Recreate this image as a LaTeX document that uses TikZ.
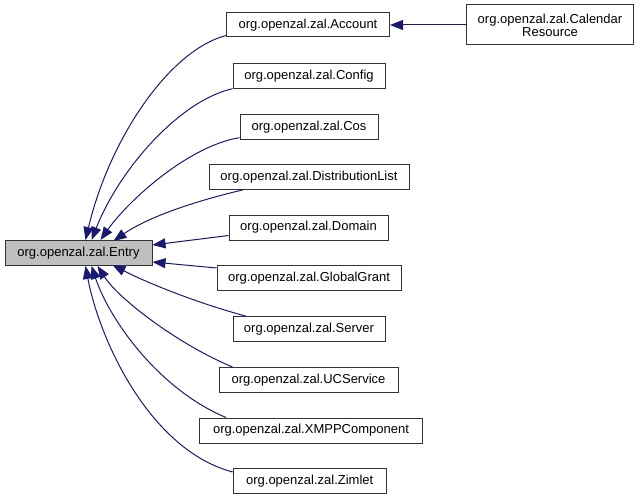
\documentclass[tikz,border=0pt]{standalone}
\usepackage{fontspec}
\setmainfont{Liberation Sans}
\usetikzlibrary{arrows.meta}
\definecolor{edgeblue}{HTML}{191970}
\definecolor{curgray}{HTML}{BFBFBF}
\tikzset{
  cls/.style={draw=black!80, line width=1pt, fill=white, inner sep=0pt,
    minimum height=25pt, font=\fontsize{13}{15}\selectfont, align=center},
  inh/.style={draw=edgeblue, line width=1pt,
    -{Triangle[length=13pt,width=10pt,fill=edgeblue]}},
}
\begin{document}
\begin{tikzpicture}[x=1pt,y=-1pt]
\useasboundingbox (0,0) rectangle (640,500);
% nodes
\node[cls, fill=curgray, minimum width=147pt] (entry) at (78.5,253) {org.openzal.zal.Entry};
\node[cls, minimum width=163pt, minimum height=24pt] (acc) at (308,25) {org.openzal.zal.Account};
\node[cls, minimum width=167pt, minimum height=40pt] (cal) at (550,25) {org.openzal.zal.Calendar\\[-2pt]Resource};
\node[cls, minimum width=152pt] (config) at (309,75.7) {org.openzal.zal.Config};
\node[cls, minimum width=138pt] (cos) at (309,126.7) {org.openzal.zal.Cos};
\node[cls, minimum width=200pt] (dist) at (309,177) {org.openzal.zal.DistributionList};
\node[cls, minimum width=159pt] (domain) at (308.5,227.5) {org.openzal.zal.Domain};
\node[cls, minimum width=184pt] (grant) at (309,278) {org.openzal.zal.GlobalGrant};
\node[cls, minimum width=152pt] (server) at (309,329) {org.openzal.zal.Server};
\node[cls, minimum width=179pt] (ucs) at (308.5,380) {org.openzal.zal.UCService};
\node[cls, minimum width=223pt] (xmpp) at (311,430.5) {org.openzal.zal.XMPPComponent};
\node[cls, minimum width=153pt] (zimlet) at (309.7,481) {org.openzal.zal.Zimlet};
% edges
\draw[inh] (cal.west) -- (acc.east);
\draw[inh] ([yshift=2pt]acc.south west) .. controls +(-57,15) and +(24,-101) .. ([xshift=81pt]entry.north west);
\draw[inh] (config.south west) .. controls +(-53,12) and +(28,-71) .. ([xshift=87pt]entry.north west);
\draw[inh] ([yshift=2pt]cos.south west) .. controls +(-50,8) and +(29,-41) .. ([xshift=96pt]entry.north west);
\draw[inh] ([xshift=34pt]dist.south west) .. controls +(-43,10) and +(36,-25) .. ([xshift=109pt,yshift=-1pt]entry.north west);
\draw[inh] ([yshift=-8pt]domain.west) -- ([yshift=8pt]entry.east);
\draw[inh] ([yshift=10pt]grant.west) -- ([yshift=-9pt]entry.east);
\draw[inh] ([xshift=13pt]server.north west) .. controls +(-45,-12) and +(37,19) .. ([xshift=108pt,yshift=1pt]entry.south west);
\draw[inh] ([xshift=14pt]ucs.north west) .. controls +(-53,-22) and +(22,34) .. ([xshift=93pt]entry.south west);
\draw[inh] ([xshift=27pt]xmpp.north west) .. controls +(-67,-28) and +(18,54) .. ([xshift=87pt]entry.south west);
\draw[inh] ([yshift=9pt]zimlet.west) .. controls +(-83,-22) and +(14,74) .. ([xshift=81pt]entry.south west);
\end{tikzpicture}
\end{document}
